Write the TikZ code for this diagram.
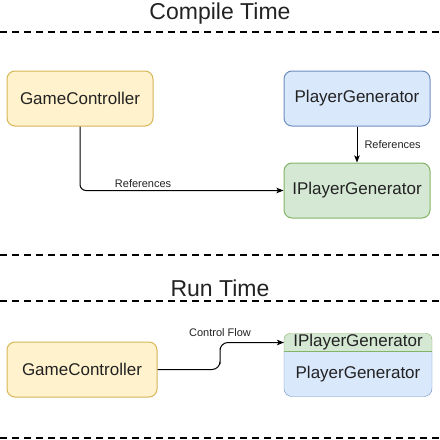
\documentclass[tikz,border=0pt]{standalone}
\usepackage{fontspec}
\setmainfont{Liberation Sans}
\usetikzlibrary{arrows.meta,positioning,backgrounds}
\definecolor{ylwF}{HTML}{FFF2CC}
\definecolor{ylwD}{HTML}{D6B656}
\definecolor{bluF}{HTML}{DAE8FC}
\definecolor{bluD}{HTML}{6C8EBF}
\definecolor{grnF}{HTML}{D5E8D4}
\definecolor{grnD}{HTML}{82B366}
\definecolor{ink}{HTML}{222222}

\begin{document}
\begin{tikzpicture}[x=1pt, y=1pt, every node/.style={text=ink},
      box/.style={rounded corners=8pt, line width=1pt, minimum width=146pt, minimum height=55pt, inner sep=0pt, font=\fontsize{17}{20}\selectfont},
      ybox/.style={box, draw=ylwD, fill=ylwF},
      bbox/.style={box, draw=bluD, fill=bluF},
      gbox/.style={box, draw=grnD, fill=grnF},
      part/.style={inner sep=0pt, outer sep=0pt, minimum width=148pt, font=\fontsize{17}{20}\selectfont},
      title/.style={font=\fontsize{23}{26}\selectfont},
      sep/.style={dash pattern=on 7pt off 5pt, line width=1.5pt},
      lbl/.style={font=\fontsize{11}{13}\selectfont, inner sep=2pt},
      arr/.style={-{Stealth[length=7pt, width=5.5pt, inset=1.5pt]}, draw=black, line width=1pt}]
    \useasboundingbox (0,0) rectangle (440,-440);
    % compile time
    \node[title] (ctTitle) at (220,-14) {Compile Time};
    \draw[sep] (0,-32) -- (440,-32);
    \node[ybox] (gcA) at (80,-98.5) {GameController};
    \node[bbox] (pgA) at (357,-98.5) {PlayerGenerator};
    \node[gbox, below=36pt of pgA] (ipgA) {IPlayerGenerator};
    \draw[arr, rounded corners=6pt] (gcA.south) |- node[lbl, pos=0.655, above] {References} (ipgA.west);
    \draw[arr] (pgA) -- node[lbl, right=5pt] {References} (ipgA);
    \draw[sep] (0,-255) -- (440,-255);
    % run time
    \node[title] (rtTitle) at (220,-288) {Run Time};
    \draw[sep] (0,-301) -- (440,-301);
    \node[ybox, minimum width=150pt] (gcB) at (82,-369.5) {GameController};
    \node[part, minimum height=18pt] (ipgB) at (358,-342.5) {IPlayerGenerator};
    \node[part, minimum height=45pt, below=0pt of ipgB] (pgB) {PlayerGenerator};
    \begin{scope}[on background layer, line width=1pt]
      \path[fill=bluF, draw=bluD, rounded corners=8pt] (pgB.north west) |- (pgB.south) -| (pgB.north east);
      \path[fill=grnF, draw=grnD, rounded corners=6pt] (ipgB.south west) |- (ipgB.north) -| (ipgB.south east);
      \draw[grnD] (ipgB.south west) -- (ipgB.south east);
    \end{scope}
    \coordinate (bend) at (220,-356);
    \draw[arr, rounded corners=8pt] (gcB.east) -| (bend) |- node[lbl, pos=0.5, above=3pt] {Control Flow} (ipgB.west);
    \draw[sep] (0,-438) -- (440,-438);
  \end{tikzpicture}
\end{document}
